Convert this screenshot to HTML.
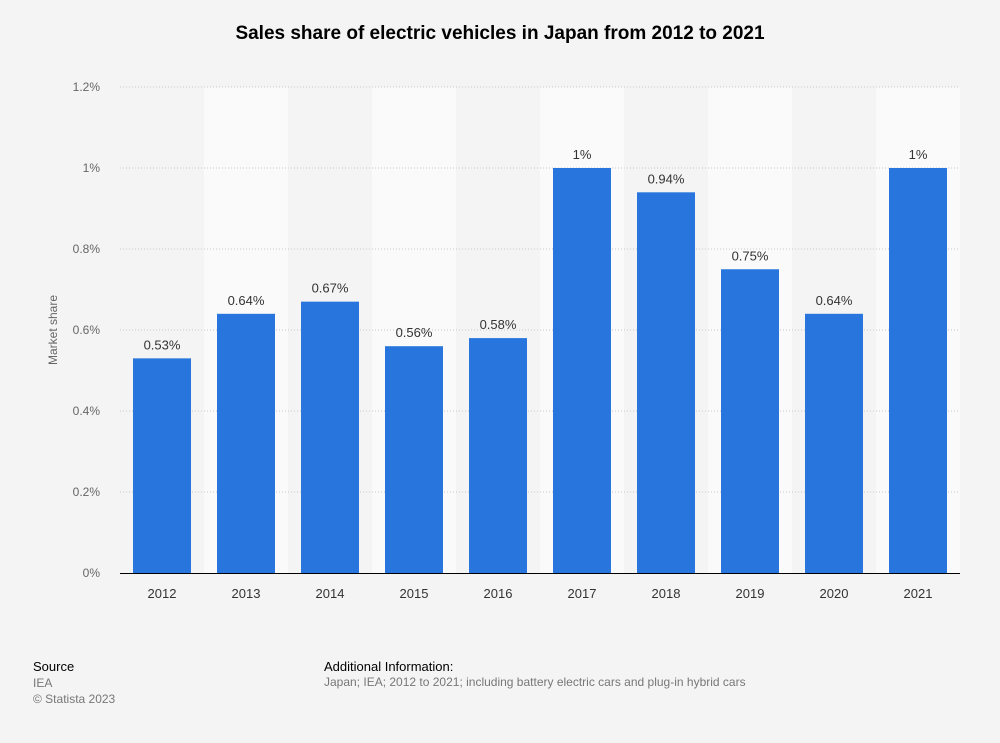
<!DOCTYPE html>
<html><head><meta charset="utf-8"><style>
body{margin:0;background:#f4f4f4;font-family:"Liberation Sans",sans-serif;}
#wrap{position:relative;width:1000px;height:743px;}
.t{position:absolute;white-space:nowrap;}
</style></head><body>
<div id="wrap">
<div class="t" style="left:0;width:1000px;text-align:center;top:23px;font-size:19px;font-weight:bold;color:#000">Sales share of electric vehicles in Japan from 2012 to 2021</div>
<svg id="chart" width="1000" height="743" style="position:absolute;left:0;top:0"></svg>
<div class="t" style="left:33px;top:659px;font-size:13px;color:#000">Source</div>
<div class="t" style="left:33px;top:675px;font-size:12px;color:#777;line-height:16px">IEA<br>© Statista 2023</div>
<div class="t" style="left:324px;top:659px;font-size:13px;color:#000">Additional Information:</div>
<div class="t" style="left:324px;top:675px;font-size:12px;color:#777">Japan; IEA; 2012 to 2021; including battery electric cars and plug-in hybrid cars</div>
</div>
<script>
const categories=["2012","2013","2014","2015","2016","2017","2018","2019","2020","2021"];
const values=[0.53,0.64,0.67,0.56,0.58,1,0.94,0.75,0.64,1];
const valueLabels=["0.53%","0.64%","0.67%","0.56%","0.58%","1%","0.94%","0.75%","0.64%","1%"];
const yTicks=[0,0.2,0.4,0.6,0.8,1,1.2];
const yTickLabels=["0%","0.2%","0.4%","0.6%","0.8%","1%","1.2%"];
const svg=document.getElementById('chart');
const NS='http://www.w3.org/2000/svg';
const L=120,R=960,T=87,B=573,yMax=1.2;
const bw=(R-L)/categories.length;
const y=v=>B-(v/yMax)*(B-T);
const x=i=>L+i*bw;
function mk(tag,a){const e=document.createElementNS(NS,tag);for(const k in a)e.setAttribute(k,a[k]);svg.appendChild(e);return e;}
categories.forEach((c,i)=>{if(i%2===1){const s=mk('rect',{x:x(i),y:T,width:bw,height:B-T,fill:'#fafafa'});

}});
yTicks.forEach((v,i)=>{
 if(v>0){const g=mk('line',{x1:L,x2:R,y1:y(v),y2:y(v),stroke:'#c8c8c8','stroke-dasharray':'1,2'});
 
 }
 const t=mk('text',{x:100,y:y(v)+4,'text-anchor':'end','font-size':12,fill:'#666'});t.textContent=yTickLabels[i];
 
 
});
categories.forEach((c,i)=>{
 const cx=x(i)+bw/2;
 const b=mk('rect',{x:cx-29,y:y(values[i]),width:58,height:B-y(values[i]),fill:'#2876dd'});
 
 
 const vl=mk('text',{x:cx,y:y(values[i])-9,'text-anchor':'middle','font-size':13,fill:'#333'});vl.textContent=valueLabels[i];
 
 
 const xl=mk('text',{x:cx,y:598,'text-anchor':'middle','font-size':13,fill:'#333'});xl.textContent=c;
 
 
});
const ax=mk('line',{x1:L,x2:R,y1:B+0.5,y2:B+0.5,stroke:'#000','stroke-width':1});


const yt=mk('text',{x:0,y:0,'text-anchor':'middle','font-size':12,fill:'#666',transform:'translate(57,330) rotate(-90)'});yt.textContent='Market share';


</script>
</body></html>
